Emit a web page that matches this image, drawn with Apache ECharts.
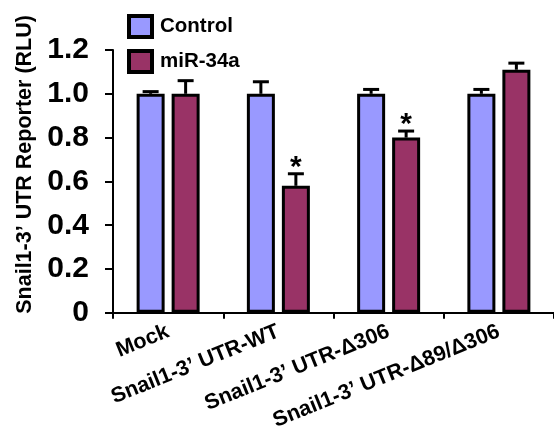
<!DOCTYPE html>
<html>
<head>
<meta charset="utf-8">
<script src="https://cdn.jsdelivr.net/npm/echarts@6/dist/echarts.min.js"></script>
<style>html,body{margin:0;padding:0;background:#fff;}#c{width:554px;height:433px;}</style>
</head>
<body>
<div id="c"></div>
<script>
const categories = ['Mock', 'Snail1-3\u2019 UTR-WT', 'Snail1-3\u2019 UTR-\u0394306', 'Snail1-3\u2019 UTR-\u039489/\u0394306'];
const controlValues = [1.00, 1.00, 1.00, 1.00];
const controlErrors = [0.01, 0.055, 0.02, 0.02];
const mirValues = [1.00, 0.58, 0.80, 1.11];
const mirErrors = [0.06, 0.055, 0.03, 0.03];
const mirSignificant = [0, 1, 1, 0];
const yMin = 0, yMax = 1.2, yInterval = 0.2;

const FONT = 'Liberation Sans, Arial, sans-serif';
const BAR_W = 28, BAR_OFFSET = 17.5;

function errRenderer(offset) {
  return function (params, api) {
    const cx = api.coord([api.value(0), 0])[0] + offset;
    const base = api.coord([api.value(0), api.value(1)])[1];
    const top = api.coord([api.value(0), api.value(1) + api.value(2)])[1];
    const children = [
      {type: 'line', shape: {x1: cx, y1: base, x2: cx, y2: top}, style: {stroke: '#000', lineWidth: 3}},
      {type: 'line', shape: {x1: cx - 8, y1: top, x2: cx + 8, y2: top}, style: {stroke: '#000', lineWidth: 3}}
    ];
    if (api.value(3)) {
      children.push({type: 'text', style: {text: '*', x: cx, y: top + 9, textAlign: 'center', textVerticalAlign: 'bottom',
        fontFamily: FONT, fontWeight: 'bold', fontSize: 30, fill: '#000'}});
    }
    return {type: 'group', children: children};
  };
}

const chart = echarts.init(document.getElementById('c'));
chart.setOption({
  animation: false,
  backgroundColor: '#fff',
  grid: {left: 113, right: -8, top: 50, bottom: 119, containLabel: false},
  legend: {
    data: ['Control', 'miR-34a'], orient: 'vertical', left: 122, top: 9,
    itemWidth: 23, itemHeight: 21, itemGap: 10, icon: 'rect',
    itemStyle: {borderColor: '#000', borderWidth: 4},
    textStyle: {fontFamily: FONT, fontWeight: 'bold', fontSize: 20.5, color: '#000', padding: [0, 0, 0, 3]}
  },
  xAxis: {
    type: 'category', data: categories,
    axisLine: {lineStyle: {color: '#000', width: 2}},
    axisTick: {show: true, interval: 0, length: 6, lineStyle: {color: '#000', width: 2}},
    axisLabel: {interval: 0, rotate: 22, margin: 18, fontFamily: FONT, fontWeight: 'bold', fontSize: 21.5, color: '#000'}
  },
  yAxis: {
    type: 'value', min: yMin, max: yMax, interval: yInterval,
    name: 'Snail1-3\u2019 UTR Reporter (RLU)', nameLocation: 'middle', nameGap: 76,
    nameTextStyle: {fontFamily: FONT, fontWeight: 'bold', fontSize: 21.5, color: '#000', padding: [0, 0, 0, 34]},
    axisLine: {show: true, lineStyle: {color: '#000', width: 2}},
    axisTick: {show: true, length: 8, lineStyle: {color: '#000', width: 2}},
    splitLine: {show: false},
    axisLabel: {margin: 24, fontFamily: FONT, fontWeight: 'bold', fontSize: 30, color: '#000',
      formatter: v => v === 0 ? '0' : v.toFixed(1)}
  },
  series: [
    {name: 'Control', type: 'bar', data: controlValues, barWidth: BAR_W, barGap: '25%',
      itemStyle: {color: '#9999FF', borderColor: '#000', borderWidth: 3}},
    {name: 'miR-34a', type: 'bar', data: mirValues, barWidth: BAR_W, barGap: '25%',
      itemStyle: {color: '#993366', borderColor: '#000', borderWidth: 3}},
    {name: 'Control err', type: 'custom', renderItem: errRenderer(-BAR_OFFSET), encode: {x: 0, y: 1}, z: 3,
      data: categories.map((c, i) => [i, controlValues[i], controlErrors[i], 0])},
    {name: 'miR err', type: 'custom', renderItem: errRenderer(BAR_OFFSET), encode: {x: 0, y: 1}, z: 3,
      data: categories.map((c, i) => [i, mirValues[i], mirErrors[i], mirSignificant[i]])}
  ]
});
</script>
</body>
</html>
